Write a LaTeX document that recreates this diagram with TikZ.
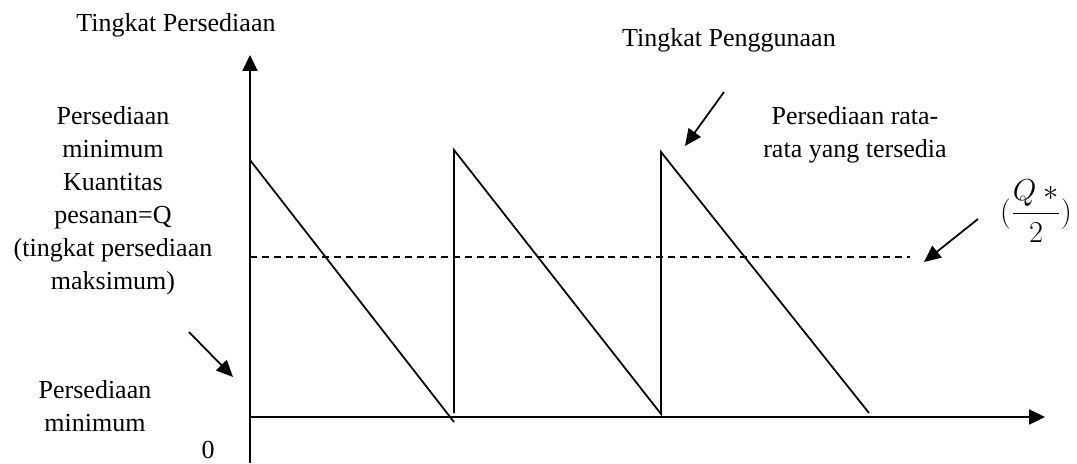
\documentclass[tikz,border=0pt]{standalone}
\usepackage{amsmath}
\usepackage{fontspec}
\setmainfont{Liberation Serif}
\usetikzlibrary{arrows.meta}

\begin{document}
\begin{tikzpicture}[x=0.02cm, y=-0.02cm,
  lbl/.style={inner sep=0pt, align=center,
              font=\fontsize{14.8}{18.8}\selectfont},
  axis/.style={line width=1pt, -{Triangle[length=9pt, width=8.5pt]}},
  pointer/.style={line width=1pt, -{Triangle[length=9.5pt, width=8.5pt]}},
  stock/.style={line width=1pt},
  avg/.style={line width=0.8pt, dash pattern=on 4pt off 2.8pt}
]
\useasboundingbox (0,0) rectangle (1077,463);
\coordinate (ybot) at (250,463);
\coordinate (ytop) at (250,55);
\coordinate (origin) at (250,417);
\coordinate (xend) at (1045,417);
\draw[axis] (ybot) -- (ytop);
\draw[axis] (origin) -- (xend);
\coordinate (peak1) at (250,160);
\coordinate (low1) at (454,422);
\coordinate (foot2) at (454,413);
\coordinate (peak2) at (454,150);
\coordinate (low2) at (661,414);
\coordinate (peak3) at (661,152);
\coordinate (low3) at (869,413);
\draw[stock] (peak1) -- (low1);
\draw[stock] (foot2) -- (peak2) -- (low2) -- (peak3) -- (low3);
\coordinate (avgstart) at (250,257);
\coordinate (avgend) at (910,257);
\draw[avg] (avgstart) -- (avgend);
\node[lbl] (ylabel) at (176,25) {Tingkat Persediaan};
\node[lbl] (qmax) at (113,200.5)
  {Persediaan\\minimum\\Kuantitas\\pesanan=Q\\(tingkat persediaan\\maksimum)};
\node[lbl] (minlbl) at (95,406.5) {Persediaan\\minimum};
\node[lbl] (zero) at (208,450) {0};
\node[lbl] (usage) at (729,40) {Tingkat Penggunaan};
\node[lbl] (avglbl) at (855,135) {Persediaan rata-\\rata yang tersedia};
\node[lbl, font=\fontsize{17}{20}\selectfont] (half) at (1036,211)
  {$(\dfrac{Q\ {*}}{2})$};
\coordinate (usagefrom) at (724,92);
\coordinate (usageto) at (685,146);
\coordinate (minfrom) at (189,332);
\coordinate (minto) at (233,377);
\coordinate (halffrom) at (978,219);
\coordinate (halfto) at (924,262);
\draw[pointer] (usagefrom) -- (usageto);
\draw[pointer] (minfrom) -- (minto);
\draw[pointer] (halffrom) -- (halfto);
\end{tikzpicture}
\end{document}
